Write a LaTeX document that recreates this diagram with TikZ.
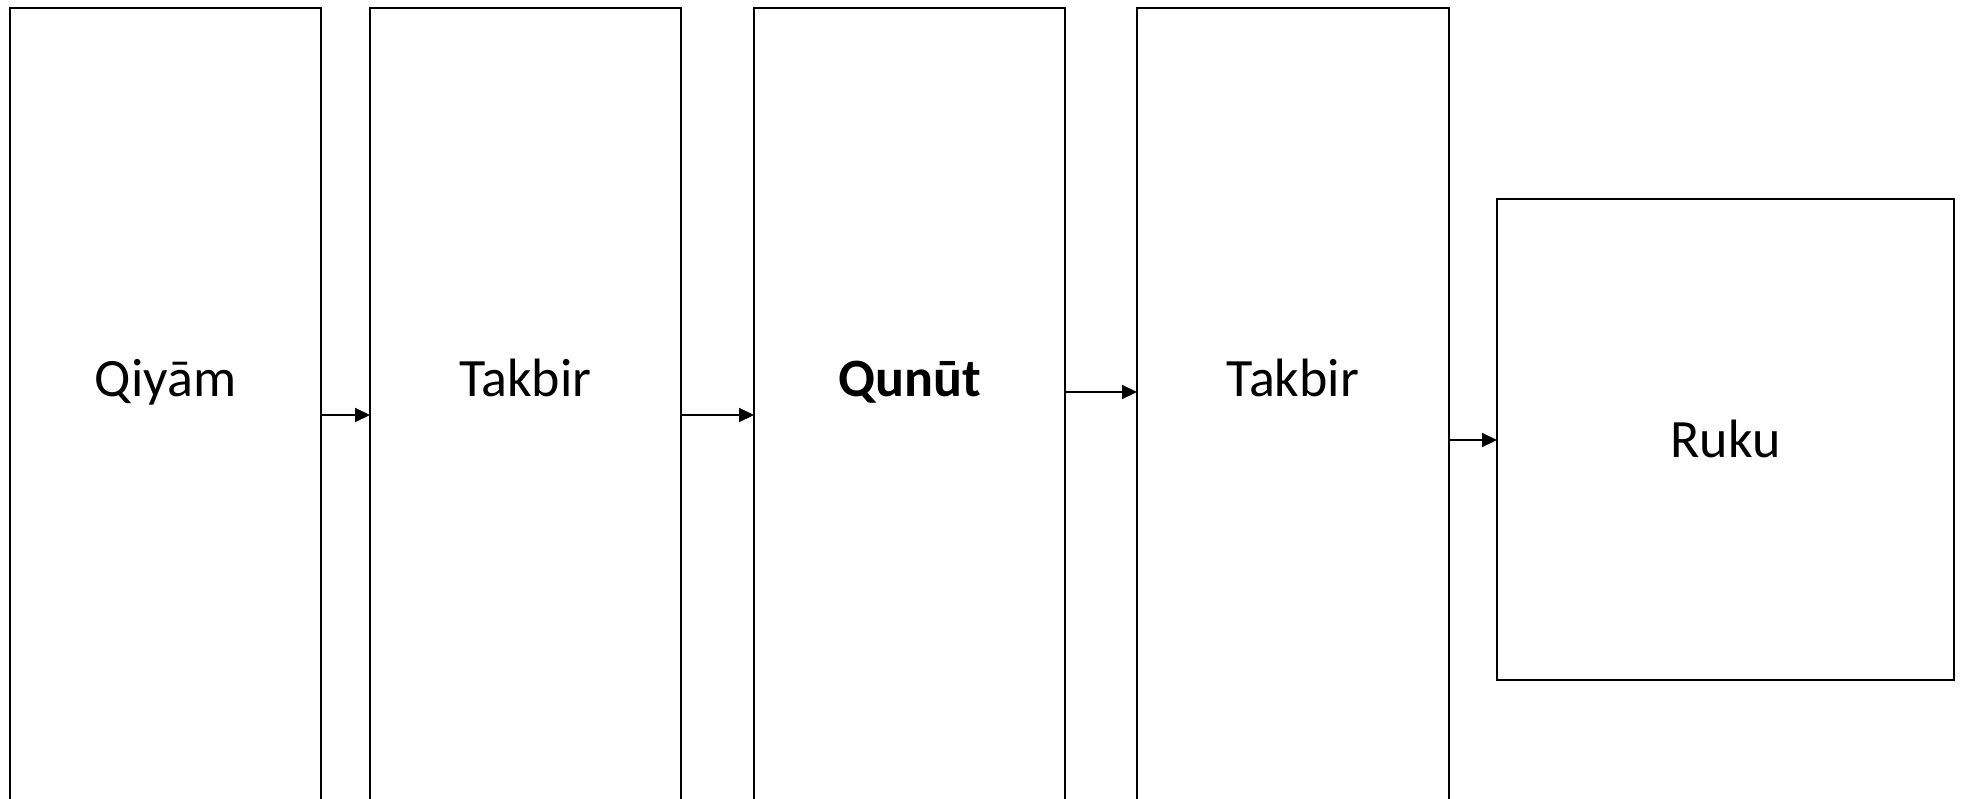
\documentclass[tikz,border=0pt]{standalone}
\usepackage{fontspec}
\setmainfont{Carlito}
\usetikzlibrary{arrows.meta}
\begin{document}
\begin{tikzpicture}[x=1pt,y=-1pt,
  box/.style={draw=black,line width=2pt,rectangle,inner sep=0pt,outer sep=0pt,minimum width=311pt},
  tall/.style={box,minimum height=892.5pt},
  lbl/.style={font=\fontsize{54}{64}\selectfont,inner sep=0pt,anchor=base},
  arr/.style={line width=2pt,-{Triangle[length=15pt,width=14pt]}}]
\useasboundingbox[fill=white] (0,0) rectangle (1961,798);
\clip (0,0) rectangle (1961,798);
\node[tall] (b1) at (165.5,453.75) {};
\node[tall] (b2) at (525.5,453.75) {};
\node[tall] (b3) at (909.5,453.75) {};
\node[tall,minimum width=312pt] (b4) at (1293,453.75) {};
\node[box,minimum width=457pt,minimum height=481pt] (b5) at (1725.5,439.5) {};
\node[lbl] (t1) at (165.5,396) {Qiyām};
\node[lbl] (t2) at (525.5,396) {Takbir};
\node[lbl] (t3) at (909.5,396) {\bfseries Qunūt};
\node[lbl] (t4) at (1293,396) {Takbir};
\node[lbl] (t5) at (1725.5,457) {Ruku};
\coordinate (y1) at (0,415);
\coordinate (y2) at (0,392);
\coordinate (y3) at (0,440);
\draw[arr] (b1.east |- y1) -- (b2.west |- y1);
\draw[arr] (b2.east |- y1) -- (b3.west |- y1);
\draw[arr] (b3.east |- y2) -- (b4.west |- y2);
\draw[arr] (b4.east |- y3) -- (b5.west |- y3);
\end{tikzpicture}
\end{document}
